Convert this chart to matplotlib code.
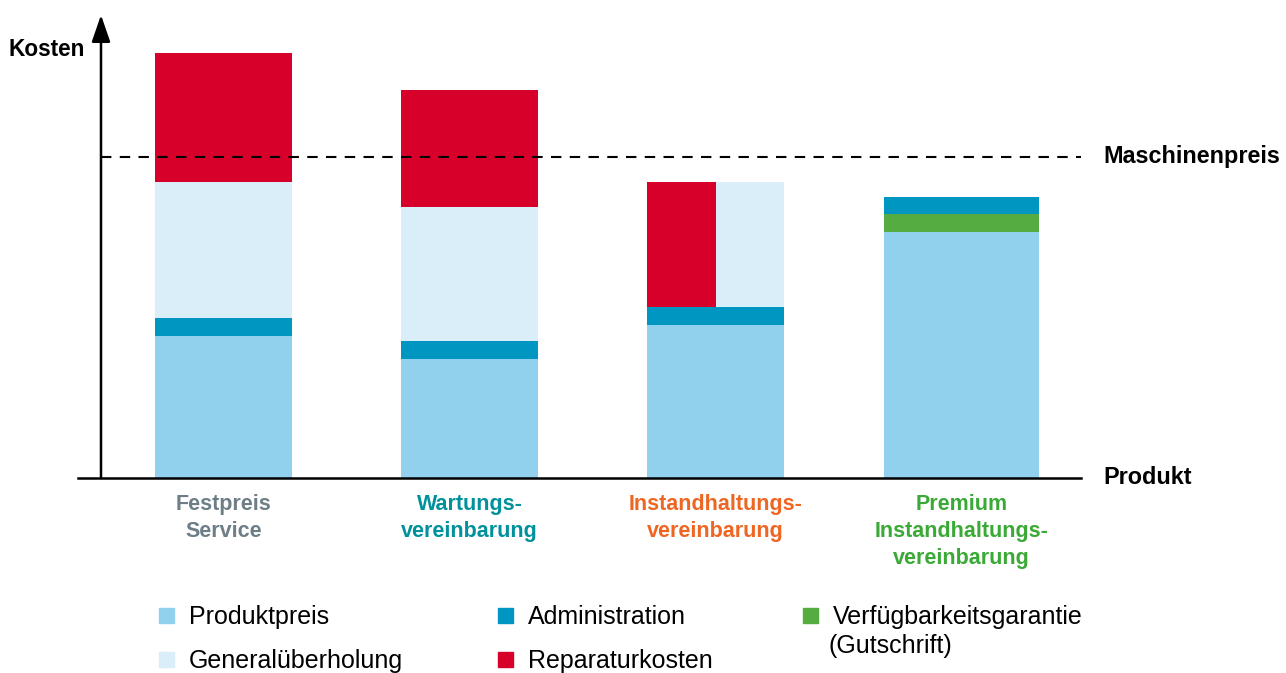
import numpy as np
import matplotlib
matplotlib.use('Agg')
import matplotlib.pyplot as plt
from matplotlib.patches import Rectangle

plt.rcParams['font.family'] = ['Liberation Sans', 'DejaVu Sans']

# Kosten je Vertragsmodell (Maschinenpreis = 100)
categories = ['Festpreis\nService', 'Wartungs-\nvereinbarung',
              'Instandhaltungs-\nvereinbarung', 'Premium\nInstandhaltungs-\nvereinbarung']
produktpreis = [44.2, 37.1, 47.7, 76.6]
administration = [5.6, 5.6, 5.6, 5.3]
verfuegbarkeit = [0, 0, 0, 5.6]
generalueberholung = [42.4, 41.7, 38.9, 0]
reparaturkosten = [40.2, 36.4, 38.9, 0]
maschinenpreis = 100
split = [False, False, True, False]  # Reparatur und Generalüberholung nebeneinander

label_colors = ['#6d7e87', '#00919c', '#ef6522', '#3ba935']
c_produkt = '#92d1ee'
c_general = '#d9eef9'
c_admin = '#0096c2'
c_repar = '#d6002b'
c_verf = '#55ad42'

fig = plt.figure(figsize=(12.86, 6.73), dpi=100)
ax = fig.add_axes([0, 0, 1, 1])
ax.axis('off')

px = 3.21  # Pixel pro Kosteneinheit
ax.set_xlim(-223.5 / 246, (1286 - 223.5) / 246)
ax.set_ylim(-(673 - 478) / px, 478 / px)

x = np.arange(len(categories))
widths = np.array([0.557, 0.557, 0.557, 0.63])

p = np.array(produktpreis)
a = np.array(administration)
v = np.array(verfuegbarkeit)
g = np.array(generalueberholung)
r = np.array(reparaturkosten)

ax.bar(x, p, widths, color=c_produkt, zorder=2)
ax.bar(x, v, widths, bottom=p, color=c_verf, zorder=2)
ax.bar(x, a, widths, bottom=p + v, color=c_admin, zorder=2)
top = p + v + a
for i in range(len(x)):
    if split[i]:
        w = widths[i] / 2
        ax.bar(x[i] - w / 2, r[i], w, bottom=top[i], color=c_repar, zorder=2)
        ax.bar(x[i] + w / 2, g[i], w, bottom=top[i], color=c_general, zorder=2)
    else:
        ax.bar(x[i], g[i], widths[i], bottom=top[i], color=c_general, zorder=2)
        ax.bar(x[i], r[i], widths[i], bottom=top[i] + g[i], color=c_repar, zorder=2)

# Achsen mit Pfeil
yx = (101 - 223.5) / 246
ax.plot([(78 - 223.5) / 246, (1081 - 223.5) / 246], [0, 0], color='black', lw=1.8, zorder=3)
ax.annotate('', xy=(yx, (478 - 15) / px), xytext=(yx, 0),
            arrowprops=dict(arrowstyle='-|>,head_length=1.1,head_width=0.38',
                            mutation_scale=15, lw=1.8, color='black',
                            shrinkA=0, shrinkB=0), zorder=3)
ax.plot([yx, (1081 - 223.5) / 246], [maschinenpreis, maschinenpreis],
        color='black', lw=1.5, dashes=(5, 4), zorder=3)

fig.text(8 / 1286, 1 - 50 / 673, 'Kosten', fontsize=16.3, fontweight='bold',
         ha='left', va='center')
tr = ax.get_yaxis_transform()
ax.text(1103 / 1286, maschinenpreis, 'Maschinenpreis', transform=tr, fontsize=16.8,
        fontweight='bold', ha='left', va='center')
ax.text(1103 / 1286, 0, 'Produkt', transform=tr, fontsize=16.8,
        fontweight='bold', ha='left', va='center')

for i, lab in enumerate(categories):
    ax.text(x[i], -(494 - 478) / px, lab, color=label_colors[i], fontsize=15.5,
            fontweight='bold', ha='center', va='top', linespacing=1.38)

# Legende
legend_items = [
    (159, 616, c_produkt, 'Produktpreis'),
    (159, 660, c_general, 'Generalüberholung'),
    (498, 616, c_admin, 'Administration'),
    (498, 660, c_repar, 'Reparaturkosten'),
    (803, 616, c_verf, 'Verfügbarkeitsgarantie\n(Gutschrift)'),
]
for lx, ly, col, txt in legend_items:
    fig.patches.append(Rectangle((lx / 1286, 1 - (ly + 7) / 673), 15 / 1286, 15 / 673,
                                 transform=fig.transFigure, color=col))
    lines = txt.split('\n')
    fig.text((lx + 30) / 1286, 1 - (ly + 1) / 673, lines[0], fontsize=18,
             ha='left', va='center')
    if len(lines) > 1:
        fig.text((lx + 26) / 1286, 1 - (ly + 30) / 673, lines[1], fontsize=18,
                 ha='left', va='center')

fig.savefig('out.png', dpi=100)
